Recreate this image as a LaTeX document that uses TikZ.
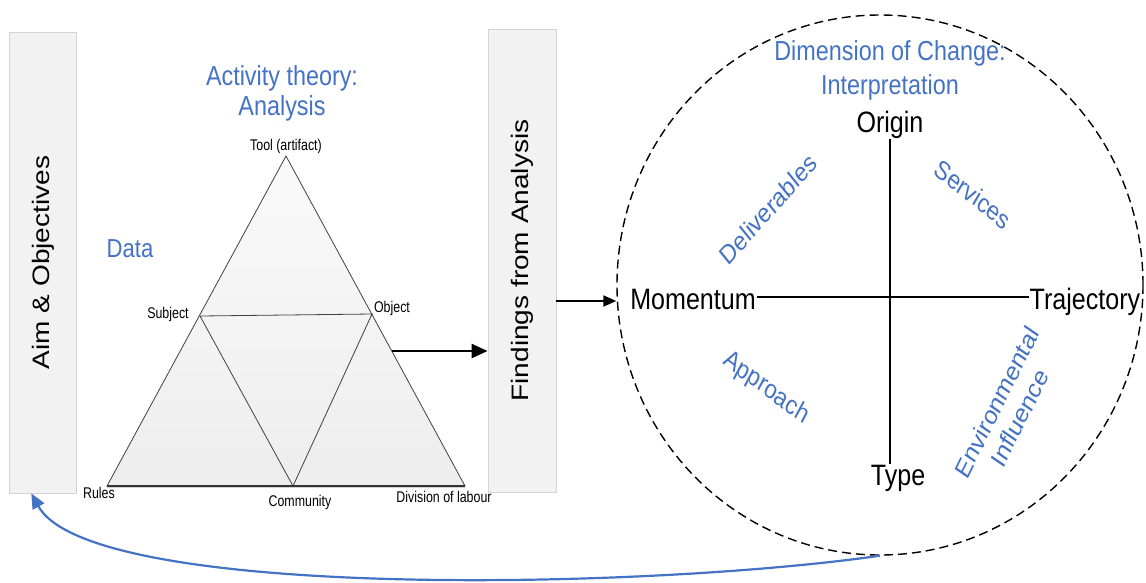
\documentclass[tikz,border=0pt]{standalone}
\usepackage{fontspec}
\setmainfont{Liberation Sans}
\usetikzlibrary{arrows.meta,shapes.geometric}
\definecolor{accent}{HTML}{4472C4}
\definecolor{panelfill}{HTML}{F2F2F2}
\definecolor{panelline}{HTML}{D4D4D4}

\begin{document}
\begin{tikzpicture}[x=1pt,y=-1pt,
  panel/.style={draw=panelline, fill=panelfill, line width=0.8pt, minimum width=67pt, inner sep=0pt},
  paneltext/.style={font=\fontsize{28}{33}\selectfont, xscale=0.85, rotate=90, inner sep=0pt},
  heading/.style={font=\fontsize{27.5}{30}\selectfont, text=accent, xscale=0.85, align=center, inner sep=0pt},
  quad/.style={font=\fontsize{26.5}{31}\selectfont, text=accent, xscale=0.85, align=center, inner sep=0pt},
  axislabel/.style={font=\fontsize{29.5}{34}\selectfont, xscale=0.85, inner sep=1pt, anchor=base},
  vertexlabel/.style={font=\fontsize{15.5}{18}\selectfont, xscale=0.8, inner sep=0pt},
  edge/.style={draw=black!75, line width=0.8pt},
  flow/.style={line width=2.2pt, -{Triangle[length=16pt,width=14pt]}},
  link/.style={line width=2pt, -{Triangle[length=13pt,width=11pt]}},
  axis/.style={line width=1.8pt},
]
\useasboundingbox (0,0) rectangle (1146,582);

% side panels
\node[panel, minimum height=461pt] (aim) at (43.3,262.5) {};
\node[paneltext] (aimtext) at (aim.center) {Aim \& Objectives};
\node[panel, minimum width=68pt, minimum height=463pt] (findings) at (522,260.5) {};
\node[paneltext] (findtext) at (findings.center) {Findings from Analysis};

% activity triangle
\coordinate (tool) at (286,156);
\coordinate (rules) at (107,486);
\coordinate (labour) at (465,486);
\coordinate (subject) at (200,316);
\coordinate (object) at (372,314);
\coordinate (community) at (293,486);
\shade[top color=black!2, bottom color=black!7] (tool) -- (labour) -- (rules) -- cycle;
\draw[black!18, line width=1.6pt] ([yshift=-1.6pt]rules) -- ([yshift=-1.6pt]labour);
\draw[edge] (tool) -- (labour) -- (rules) -- cycle;
\draw[edge] (subject) -- (object) -- (community) -- cycle;
\draw[black!80, line width=1.1pt] (rules) -- (labour);

\node[vertexlabel] (ltool) at (286,146) {Tool (artifact)};
\node[vertexlabel] (lsubject) at (168,314) {Subject};
\node[vertexlabel] (lobject) at (392,308) {Object};
\node[vertexlabel] (lrules) at (99,493) {Rules};
\node[vertexlabel] (lcommunity) at (300,502) {Community};
\node[vertexlabel] (llabour) at (444,497) {Division of labour};

\node[heading] (activity) at (282,93) {Activity theory:\\Analysis};
\node[heading, font=\fontsize{26}{30}\selectfont] (data) at (130,249) {Data};

% triangle feeds the findings panel
\coordinate (triout) at (392,351);
\draw[flow] (triout) -- (triout -| findings.west);

% dimension of change
\node[draw, ellipse, dash pattern=on 9pt off 5pt, line width=1.4pt, minimum width=526pt, minimum height=540pt, inner sep=0pt] (dim) at (880,285) {};
\node[heading, font=\fontsize{27.5}{34}\selectfont] (dimtitle) at (890,70) {Dimension of Change:\\Interpretation};

\node[axislabel] (origin) at (890,132) {Origin};
\node[axislabel] (type) at (898,485) {Type};
\node[axislabel] (mom) at (693,309) {Momentum};
\node[axislabel] (traj) at (1085,309) {Trajectory};
\draw[axis] ([yshift=12pt]mom.base east) -- ([yshift=12pt]traj.base west);
\draw[axis] (origin.south) -- (origin.south |- type.north);

\node[quad, rotate=43.7] (deliv) at (768,209) {Deliverables};
\node[quad, rotate=-34.5] (serv) at (973,194) {Services};
\node[quad, rotate=-32.2] (appr) at (766,388) {Approach};
\node[quad, rotate=59.7] (env) at (1008,410) {Environmental\\Influence};

\draw[link] ([yshift=-40.5pt]findings.east) -- ([yshift=-40.5pt]findings.east -| dim.west);

% feedback loop back to the aims
\draw[accent, line width=2.2pt, -{Triangle[length=15pt,width=13pt]}]
  (dim.south) .. controls (640,590) and (90,600) .. ([xshift=-12pt]aim.south);
\end{tikzpicture}
\end{document}
